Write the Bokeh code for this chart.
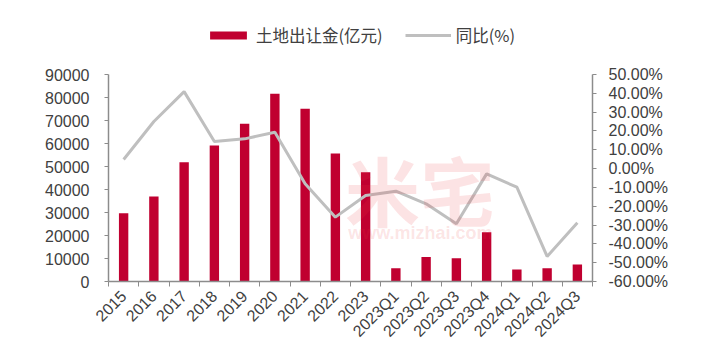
from bokeh.plotting import figure
from bokeh.models import (ColumnDataSource, Range1d, LinearAxis, FixedTicker,
                          PrintfTickFormatter, Legend, LegendItem, Label)
from bokeh.embed import file_html
from bokeh.resources import INLINE
import math

categories = ["2015", "2016", "2017", "2018", "2019", "2020", "2021", "2022", "2023",
              "2023Q1", "2023Q2", "2023Q3", "2023Q4", "2024Q1", "2024Q2", "2024Q3"]
land_revenue = [29700, 37000, 51900, 59100, 68600, 81600, 75100, 55700, 47500,
                5800, 10600, 10100, 21400, 5200, 5800, 7400]
yoy_pct = [4.8, 25.0, 40.9, 14.4, 15.8, 19.3, -8.1, -25.8, -14.3,
           -12.0, -18.7, -29.3, -2.8, -9.9, -46.7, -28.8]

left_ticks = [0, 10000, 20000, 30000, 40000, 50000, 60000, 70000, 80000, 90000]
right_ticks = [-60, -50, -40, -30, -20, -10, 0, 10, 20, 30, 40, 50]

n = len(categories)
centers = [i + 0.5 for i in range(n)]
src = ColumnDataSource(dict(x=centers, rev=land_revenue, yoy=yoy_pct))

BAR = "#C00030"
LINE = "#BFBFBF"
AX = "#8C8C8C"
TXT = "#404040"
FONT = "Liberation Sans"
CJK = "Noto Sans CJK SC"

# frame extends above the axes' drawn extent so the legend sits inside it
TOP_PAD = 64 / 207.0   # fraction of axis span left above the top tick
L0, L1 = 0, 90000
R0, R1 = -60, 50

p = figure(width=693, height=351, output_backend="svg", toolbar_location=None,
           x_range=Range1d(0, n),
           y_range=Range1d(L0, L1 + (L1 - L0) * TOP_PAD),
           min_border_left=108, min_border_right=101,
           min_border_top=10, min_border_bottom=70)
p.extra_y_ranges = {"pct": Range1d(R0, R1 + (R1 - R0) * TOP_PAD)}
p.outline_line_color = None
p.xgrid.visible = False
p.ygrid.visible = False
p.yaxis.visible = False
p.xaxis.visible = False

# watermark
p.add_layout(Label(x=10.3, y=40400, text="米宅", text_font=CJK, text_font_size="75px",
                   text_font_style="bold", text_color="#E8383D", text_alpha=0.14,
                   text_align="center", text_baseline="middle"))
p.add_layout(Label(x=10.31, y=21300, text="www.mizhai.com", text_font=FONT,
                   text_font_size="18px", text_font_style="bold", text_color="#E8383D",
                   text_alpha=0.14, text_align="center", text_baseline="middle"))

bars = p.vbar(x="x", top="rev", width=0.31, source=src, fill_color=BAR, line_color=None)
line = p.line(x="x", y="yoy", source=src, y_range_name="pct", line_color=LINE, line_width=3)

# left axis
la = LinearAxis(ticker=FixedTicker(ticks=left_ticks), bounds=(L0, L1))
la.axis_line_color = AX
la.axis_line_width = 1.5
la.major_tick_line_color = AX
la.major_tick_out = 4
la.major_tick_in = 0
la.minor_tick_line_color = None
la.major_label_text_font = FONT
la.major_label_text_font_size = "16px"
la.major_label_text_color = TXT
la.major_label_standoff = 15
p.add_layout(la, "left")

# right axis
ra = LinearAxis(y_range_name="pct", ticker=FixedTicker(ticks=right_ticks),
                formatter=PrintfTickFormatter(format="%.2f%%"), bounds=(R0, R1))
ra.axis_line_color = AX
ra.axis_line_width = 1.5
ra.major_tick_line_color = AX
ra.major_tick_out = 4
ra.major_tick_in = 0
ra.minor_tick_line_color = None
ra.major_label_text_font = FONT
ra.major_label_text_font_size = "16px"
ra.major_label_text_color = TXT
ra.major_label_standoff = 12
p.add_layout(ra, "right")

# bottom axis: labels at centres, tick marks at boundaries
xa = LinearAxis(ticker=FixedTicker(ticks=centers, minor_ticks=list(range(n + 1))))
xa.major_label_overrides = {c: lab for c, lab in zip(centers, categories)}
xa.axis_line_color = AX
xa.axis_line_width = 1.5
xa.major_tick_line_color = None
xa.minor_tick_line_color = AX
xa.minor_tick_out = 5
xa.minor_tick_in = 0
xa.major_label_orientation = math.pi / 4
xa.major_label_text_font = FONT
xa.major_label_text_font_size = "16px"
xa.major_label_text_color = TXT
xa.major_label_standoff = 6
p.add_layout(xa, "below")

legend = Legend(items=[LegendItem(label="土地出让金(亿元)", renderers=[bars]),
                       LegendItem(label="同比(%)", renderers=[line])],
                orientation="horizontal", location=(97, 234),
                glyph_width=46, glyph_height=10, label_height=14,
                label_standoff=5, spacing=22,
                padding=0, margin=0, border_line_color=None, background_fill_alpha=0,
                label_text_font=CJK, label_text_font_size="16.5px", label_text_color=TXT)
p.add_layout(legend, "center")

open("out.html", "w").write(file_html(p, INLINE))
